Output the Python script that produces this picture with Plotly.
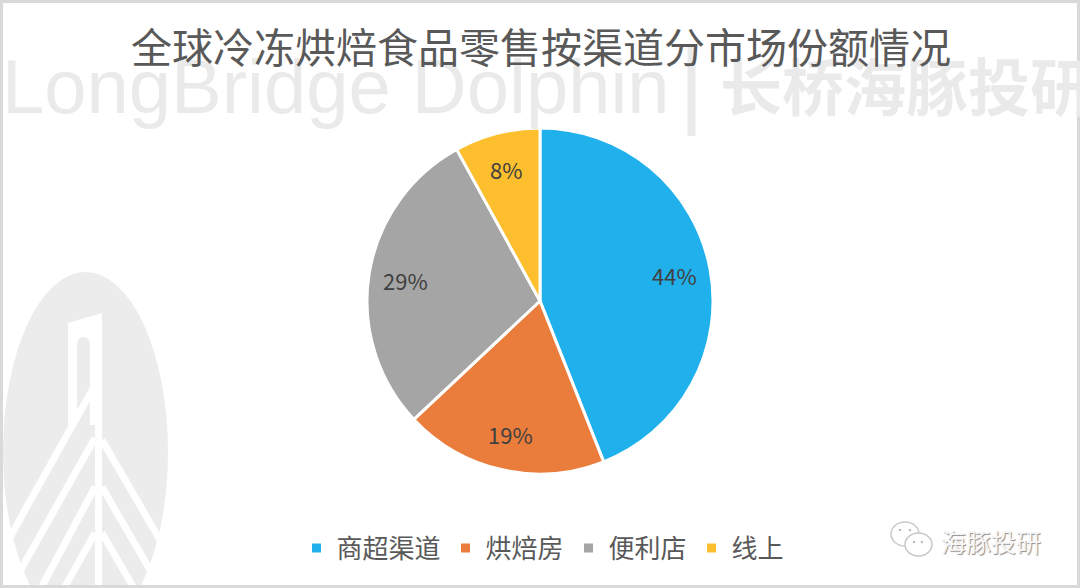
import math
import plotly.graph_objects as go

# ---- data ----
channels = ["商超渠道", "烘焙房", "便利店", "线上"]
shares = [44, 19, 29, 8]
colors = ["#20B1EC", "#EB7D3C", "#A5A5A5", "#FDBF2D"]
title_text = "全球冷冻烘焙食品零售按渠道分市场份额情况"

W, H = 1080, 588

def px(x):
    return x / W

def py(y):
    return 1 - y / H

fig = go.Figure()

# pie geometry (pixels)
cx, cy, r = 540, 301, 173

fig.add_trace(go.Pie(
    labels=channels,
    values=shares,
    sort=False,
    direction="clockwise",
    rotation=0,
    marker=dict(colors=colors, line=dict(color="white", width=3)),
    textinfo="none",
    domain=dict(x=[px(cx - r), px(cx + r)], y=[py(cy + r), py(cy - r)]),
    hoverinfo="label+percent",
))

annotations = []
# data labels placed along each slice's mid-angle (derived from the values)
total = sum(shares)
cum = 0
for v in shares:
    mid = (cum + v / 2) / total * 2 * math.pi
    cum += v
    lx = cx + 0.79 * r * math.sin(mid)
    ly = cy - 0.79 * r * math.cos(mid)
    annotations.append(dict(text=f"{round(v / total * 100)}%", x=px(lx), y=py(ly),
                            xanchor="center", yanchor="middle", showarrow=False,
                            xref="paper", yref="paper",
                            font=dict(family="Noto Sans CJK SC", size=22, color="#404040")))

GRAY = "#ECECEC"
shapes = []
# logo watermark ellipse (lower left)
shapes.append(dict(type="circle", xref="paper", yref="paper",
                   x0=px(3), x1=px(168), y0=py(632), y1=py(272),
                   fillcolor=GRAY, line=dict(width=0), layer="below"))
# pillar
shapes.append(dict(type="path", xref="paper", yref="paper",
                   path=f"M {px(68)},{py(323)} L {px(102)},{py(313)} L {px(102)},{py(425)} L {px(68)},{py(425)} Z",
                   fillcolor="white", line=dict(width=0), layer="below"))
shapes.append(dict(type="rect", xref="paper", yref="paper",
                   x0=px(95), x1=px(102), y0=py(600), y1=py(420),
                   fillcolor="white", line=dict(width=0), layer="below"))
shapes.append(dict(type="path", xref="paper", yref="paper",
                   path=(f"M {px(77)},{py(430)} L {px(77)},{py(346)} Q {px(77)},{py(337)} {px(83.5)},{py(337)} "
                         f"Q {px(90)},{py(337)} {px(90)},{py(346)} L {px(90)},{py(430)} Z"),
                   fillcolor=GRAY, line=dict(width=0), layer="below"))
# diagonal stripes
stripes = [((95, 385), (10, 537)), ((95, 438), (15, 580)), ((95, 487), (40, 590)), ((95, 533), (62, 592)),
           ((102, 440), (160, 540)), ((102, 487), (150, 570)), ((102, 533), (135, 590))]
for (x0, y0), (x1, y1) in stripes:
    shapes.append(dict(type="line", xref="paper", yref="paper",
                       x0=px(x0), y0=py(y0), x1=px(x1), y1=py(y1),
                       line=dict(color="white", width=7), layer="below"))
# wechat icon
shapes.append(dict(type="circle", xref="paper", yref="paper",
                   x0=px(891), x1=px(919), y0=py(546), y1=py(522),
                   fillcolor="white", line=dict(color="#C8C8C8", width=1.5)))
shapes.append(dict(type="circle", xref="paper", yref="paper",
                   x0=px(905), x1=px(932), y0=py(556), y1=py(533),
                   fillcolor="white", line=dict(color="#C8C8C8", width=1.5)))
for (dx, dy) in [(900, 530), (910, 530), (914, 542), (922, 542)]:
    shapes.append(dict(type="circle", xref="paper", yref="paper",
                       x0=px(dx - 1.3), x1=px(dx + 1.3), y0=py(dy + 1.3), y1=py(dy - 1.3),
                       fillcolor="#BDBDBD", line=dict(width=0)))
# outer frame
shapes.append(dict(type="rect", xref="paper", yref="paper",
                   x0=0, x1=1, y0=0, y1=1,
                   line=dict(color="#D9D9D9", width=6), fillcolor="rgba(0,0,0,0)"))

annotations += [
    dict(text="LongBridge Dolphin", x=px(0), y=py(86), xanchor="left", yanchor="middle",
         font=dict(family="Liberation Sans, Arial, sans-serif", size=76, color="#EAEAEA"),
         showarrow=False, xref="paper", yref="paper"),
    dict(text="|", x=px(691), y=py(82), xanchor="center", yanchor="middle",
         font=dict(family="Liberation Sans, sans-serif", size=96, color="#EAEAEA"),
         showarrow=False, xref="paper", yref="paper"),
    dict(text="<b>长桥海豚投研</b>", x=px(718), y=py(84), xanchor="left", yanchor="middle",
         font=dict(family="Noto Sans CJK SC", size=62, color="#EAEAEA"),
         showarrow=False, xref="paper", yref="paper"),
    dict(text=title_text, x=px(541), y=py(45), xanchor="center", yanchor="middle",
         font=dict(family="Noto Sans CJK SC", size=41, color="#595959"),
         showarrow=False, xref="paper", yref="paper"),
    dict(text="海豚投研", x=px(939), y=py(541), xanchor="left", yanchor="middle",
         font=dict(family="Noto Sans CJK SC", size=25, color="#F7F7F7",
                   shadow="1px 1px 1px #8C8C8C"),
         showarrow=False, xref="paper", yref="paper"),
]

fig.update_layout(
    width=W, height=H,
    margin=dict(l=0, r=0, t=0, b=0),
    paper_bgcolor="white",
    plot_bgcolor="white",
    shapes=shapes,
    annotations=annotations,
    showlegend=True,
    legend=dict(orientation="h", x=px(543), xanchor="center", y=py(548), yanchor="middle",
                font=dict(family="Noto Sans CJK SC", size=26, color="#595959"),
                bgcolor="rgba(0,0,0,0)"),
)

fig.write_html("out.html", config={"displayModeBar": False},
               post_script="document.body.style.margin='0';")
